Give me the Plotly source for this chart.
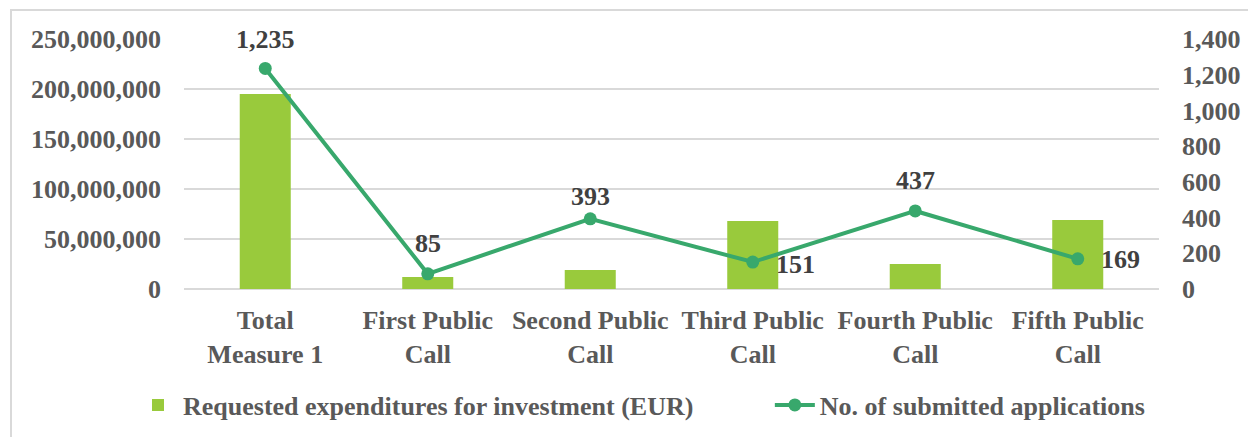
import plotly.graph_objects as go

categories = ["Total<br>Measure 1", "First Public<br>Call", "Second Public<br>Call",
              "Third Public<br>Call", "Fourth Public<br>Call", "Fifth Public<br>Call"]
expenditures = [195000000, 12000000, 19000000, 68000000, 25000000, 69000000]
applications = [1235, 85, 393, 151, 437, 169]

# label placement (styling, not data)
label_side = ["top", "top", "top", "right", "top", "right"]
label_dy = [29, 30, 22, -2, 30, -1]

BAR = "#99CA3C"
LINE = "#38A86C"
TICK = "#595959"
LAB = "#404040"
FONT = "'Liberation Serif', Tinos, 'Times New Roman', Times, serif"
FS = 26

W, H = 1248, 437
L, R, T, B = 184, 89, 39, 148
pw = W - L - R
ph = H - T - B

fig = go.Figure()
fig.add_trace(go.Bar(
    x=categories, y=expenditures,
    name="Requested expenditures for investment (EUR)" + "\u00a0" * 11,
    marker=dict(color=BAR, line=dict(width=0)), yaxis="y",
))
fig.add_trace(go.Scatter(
    x=categories, y=applications, name="No. of submitted applications",
    mode="lines+markers", yaxis="y2",
    line=dict(color=LINE, width=4), marker=dict(color=LINE, size=13),
    cliponaxis=False,
))

annotations = []
for c, v, s, dy in zip(categories, applications, label_side, label_dy):
    if s == "top":
        annotations.append(dict(x=c, y=v, xref="x", yref="y2", text=f"{v:,}", showarrow=False,
                                xanchor="center", yanchor="middle", yshift=dy))
    else:
        annotations.append(dict(x=c, y=v, xref="x", yref="y2", text=f"{v:,}", showarrow=False,
                                xanchor="left", yanchor="middle", xshift=21, yshift=dy))
for a in annotations:
    a["font"] = dict(family=FONT, size=FS, color=LAB, weight="bold")


def px_x(x):
    return (x - L) / pw


def px_y(y):
    return (H - B - y) / ph


fig.update_layout(
    width=W, height=H,
    margin=dict(l=L, r=R, t=T, b=B, autoexpand=False),
    paper_bgcolor="white", plot_bgcolor="white",
    font=dict(family=FONT, size=FS, color=TICK, weight="bold"),
    bargap=0.686,
    showlegend=True,
    annotations=annotations,
    legend=dict(orientation="h", x=px_x(133), xanchor="left", y=px_y(405), yanchor="middle",
                font=dict(family=FONT, size=FS, color=TICK, weight="bold"),
                itemwidth=40, traceorder="normal", bgcolor="rgba(0,0,0,0)"),
    xaxis=dict(showgrid=False, showline=False, ticks="", tickfont=dict(size=FS),
               ticklabelstandoff=13),
    yaxis=dict(range=[0, 250000000], dtick=50000000, tickformat=",",
               showgrid=True, gridcolor="#D9D9D9", gridwidth=1.5,
               zeroline=True, zerolinecolor="#D9D9D9", zerolinewidth=1.5,
               showline=False, ticks="", ticklabelstandoff=22),
    yaxis2=dict(range=[0, 1400], dtick=200, tickformat=",", overlaying="y", side="right",
                showgrid=False, zeroline=False, showline=False, ticks="",
                ticklabelstandoff=22),
    shapes=[dict(type="rect", xref="paper", yref="paper",
                 x0=px_x(11), x1=px_x(1260), y0=px_y(450), y1=px_y(10),
                 line=dict(color="#D9D9D9", width=2), fillcolor="rgba(0,0,0,0)", layer="below")],
)

fig.write_html("out.html", config={"displayModeBar": False},
               post_script="document.body.style.margin='0';")
